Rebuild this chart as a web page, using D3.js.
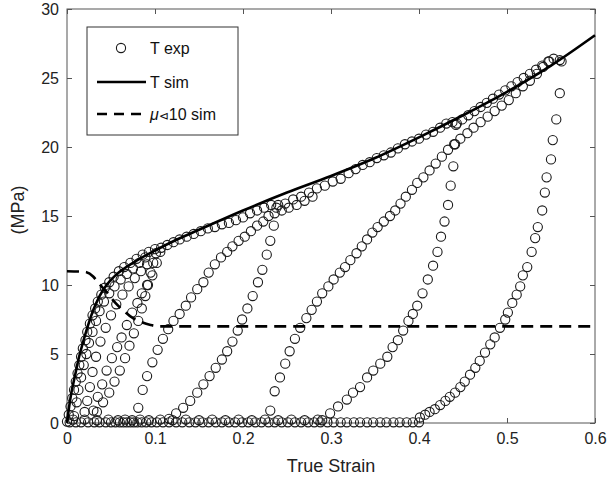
<!DOCTYPE html>
<html><head><meta charset="utf-8">
<script src="https://cdn.jsdelivr.net/npm/d3@7"></script>
<style>body{margin:0;background:#fff}svg{display:block}text{font-family:"Liberation Sans",Arial,sans-serif}</style>
</head><body><svg id="c" width="607" height="486"></svg>
<script>
// ---- data ----
const xTicks = [0, 0.1, 0.2, 0.3, 0.4, 0.5, 0.6];
const yTicks = [0, 5, 10, 15, 20, 25, 30];
const legendLabels = ["T exp", "T sim", "μ⊲10 sim"];

// T sim (solid line)
const simStrain = [0, 0.002, 0.005, 0.009, 0.013, 0.018, 0.024, 0.03, 0.037, 0.045, 0.055, 0.065, 0.08, 0.1, 0.125, 0.15, 0.2, 0.25, 0.3, 0.35, 0.4, 0.45, 0.5, 0.55, 0.6];
const simStress = [0, 1.0, 2.2, 3.4, 4.6, 5.8, 7.1, 8.2, 9.2, 10.0, 10.7, 11.2, 11.8, 12.5, 13.3, 14.0, 15.4, 16.7, 17.9, 19.2, 20.7, 22.3, 24.0, 25.9, 28.1];

// mu<10 sim (dashed line)
const muStrain = [0, 0.02, 0.03, 0.035, 0.045, 0.055, 0.065, 0.075, 0.085, 0.095, 0.105, 0.12, 0.6];
const muStress = [11.0, 10.95, 10.6, 10.2, 9.5, 8.7, 8.1, 7.6, 7.3, 7.1, 7.0, 7.0, 7.0];

// T exp (circles), one array per visible chain of points [strain, stress]
const expEnv0 = [[0,0.1],[0.002,0.6],[0.004,1.2],[0.006,1.8],[0.008,2.4],[0.010,3.0],[0.012,3.6],[0.014,4.2],[0.016,4.8],[0.018,5.4],[0.021,6.0],[0.023,6.6],[0.026,7.2],[0.029,7.8],[0.032,8.3],[0.035,8.8],[0.039,9.3],[0.043,9.8],[0.048,10.2],[0.053,10.6],[0.059,11.0],[0.065,11.3],[0.072,11.6],[0.079,11.9],[0.086,12.2],[0.093,12.4],[0.100,12.6]];
const expEnv1 = [[0.107,12.7],[0.114,12.9],[0.121,13.1],[0.128,13.3],[0.136,13.5],[0.144,13.7],[0.152,13.9],[0.160,14.1],[0.168,14.2],[0.176,14.4],[0.184,14.5],[0.192,14.7],[0.200,14.9],[0.208,15.2],[0.216,15.4],[0.224,15.6],[0.232,15.8],[0.240,15.8]];
const expEnv2 = [[0.248,15.9],[0.257,16.2],[0.266,16.4],[0.275,16.7],[0.284,17.0],[0.293,17.2],[0.302,17.5],[0.311,17.7],[0.320,18.1],[0.328,18.4],[0.336,18.7],[0.344,18.9],[0.352,19.2],[0.360,19.4],[0.368,19.6],[0.376,19.9],[0.384,20.2],[0.392,20.4],[0.400,20.6],[0.408,20.9],[0.416,21.1],[0.424,21.4],[0.431,21.7],[0.438,21.8],[0.443,21.7]];
const expEnv3 = [[0.449,22.0],[0.456,22.3],[0.463,22.6],[0.470,22.9],[0.477,23.2],[0.484,23.5],[0.491,23.8],[0.498,24.1],[0.505,24.4],[0.512,24.7],[0.519,25.0],[0.526,25.3],[0.533,25.6],[0.540,25.9],[0.547,26.2],[0.553,26.4],[0.560,26.3]];
const expLoadA = [[0.008,0.5],[0.011,1.5],[0.013,2.4],[0.016,3.3],[0.019,4.2],[0.022,5.0],[0.025,5.8],[0.029,6.6],[0.033,7.4],[0.037,8.1],[0.042,8.8],[0.048,9.4],[0.054,9.9],[0.061,10.4],[0.068,10.8],[0.075,11.2],[0.082,11.6],[0.089,12.0]];
const expLoadB = [[0.020,0.8],[0.023,1.6],[0.026,2.6],[0.029,3.7],[0.033,4.8],[0.038,5.9],[0.044,6.9],[0.050,7.8],[0.056,8.6],[0.063,9.3],[0.070,9.9],[0.077,10.5],[0.084,11.0],[0.091,11.5]];
const expLoadC = [[0.030,0.9],[0.035,1.9],[0.040,2.8],[0.045,3.8],[0.051,4.7],[0.057,5.5],[0.062,6.2],[0.068,7.1],[0.074,8.0],[0.080,8.7],[0.085,9.4],[0.091,10.0],[0.097,10.7],[0.102,11.6],[0.106,12.4]];
const expUnload1 = [[0.101,12.3],[0.098,11.6],[0.095,10.9],[0.092,10.0],[0.089,9.2],[0.085,8.3],[0.081,7.4],[0.076,6.5],[0.071,5.6],[0.066,4.7],[0.060,3.8],[0.054,3.0],[0.048,2.2],[0.041,1.5],[0.034,0.8]];
const expReload2 = [[0.081,1.1],[0.086,2.4],[0.091,3.4],[0.097,4.4],[0.103,5.3],[0.109,6.1],[0.115,6.8],[0.121,7.4],[0.128,7.9],[0.135,8.5],[0.141,9.1],[0.148,9.7],[0.155,10.2],[0.161,10.9],[0.168,11.5],[0.175,12.0],[0.182,12.4],[0.188,12.8],[0.195,13.2],[0.202,13.5],[0.209,13.9],[0.216,14.3],[0.223,14.6],[0.229,15.0],[0.236,15.2],[0.244,15.4],[0.252,15.6],[0.261,15.8],[0.270,16.1],[0.279,16.4]];
const expUnload2 = [[0.238,15.6],[0.235,14.3],[0.231,13.2],[0.227,12.2],[0.222,11.1],[0.217,10.2],[0.211,9.2],[0.205,8.3],[0.199,7.5],[0.194,6.7],[0.188,5.9],[0.182,5.2],[0.176,4.6],[0.169,4.0],[0.162,3.4],[0.155,2.8],[0.148,2.2],[0.140,1.6],[0.132,1.1],[0.124,0.7],[0.116,0.3]];
const expReload3 = [[0.231,0.9],[0.236,2.3],[0.242,3.3],[0.248,4.3],[0.253,5.2],[0.259,6.1],[0.265,6.9],[0.272,7.6],[0.278,8.2],[0.284,8.8],[0.290,9.4],[0.297,9.9],[0.303,10.4],[0.310,10.9],[0.316,11.3],[0.322,11.8],[0.329,12.3],[0.335,12.8],[0.341,13.3],[0.347,13.8],[0.353,14.2],[0.360,14.6],[0.367,15.0],[0.373,15.4],[0.379,15.9],[0.385,16.4],[0.392,16.9],[0.398,17.4],[0.405,17.8],[0.412,18.3],[0.419,18.8],[0.426,19.3],[0.433,19.8],[0.440,20.2],[0.447,20.6],[0.455,21.0],[0.462,21.4],[0.470,21.8],[0.478,22.2],[0.486,22.6],[0.494,23.0],[0.502,23.4],[0.510,23.9],[0.518,24.4],[0.526,24.8],[0.534,25.3],[0.541,25.8],[0.548,26.2]];
const expUnload3 = [[0.442,21.6],[0.441,20.2],[0.439,18.6],[0.436,17.2],[0.433,15.8],[0.429,14.6],[0.425,13.5],[0.421,12.4],[0.416,11.4],[0.410,10.4],[0.404,9.4],[0.398,8.5],[0.393,7.9],[0.388,7.4],[0.382,6.7],[0.376,6.0],[0.370,5.5],[0.364,4.8],[0.356,4.3],[0.348,3.8],[0.341,3.3],[0.333,2.6],[0.325,2.2],[0.318,1.7],[0.308,1.2],[0.299,0.7],[0.290,0.2]];
const expUnload4 = [[0.562,26.2],[0.560,23.9],[0.556,22.0],[0.552,20.5],[0.550,19.1],[0.545,17.8],[0.543,16.7],[0.540,15.4],[0.535,14.2],[0.532,13.4],[0.528,12.4],[0.523,11.3],[0.518,10.7],[0.515,9.9],[0.511,9.3],[0.506,8.7],[0.501,8.0],[0.498,7.5],[0.492,6.9],[0.486,6.2],[0.481,5.7],[0.475,5.1],[0.469,4.5],[0.464,4.0],[0.458,3.5],[0.452,3.0],[0.447,2.6],[0.441,2.2],[0.435,1.9],[0.430,1.6],[0.424,1.3],[0.418,1.0],[0.412,0.8],[0.407,0.6],[0.401,0.4]];
const expZeroA = [[0.003,0.05],[0.010,0.05],[0.016,0.05],[0.024,0.05],[0.031,0.05],[0.037,0.05],[0.044,0.05],[0.050,0.05],[0.055,0.05],[0.060,0.05],[0.064,0.05],[0.068,0.05],[0.072,0.05],[0.076,0.05],[0.080,0.05],[0.085,0.05],[0.090,0.05],[0.096,0.05],[0.102,0.05],[0.109,0.05],[0.116,0.05],[0.124,0.05],[0.131,0.05],[0.139,0.05],[0.146,0.05],[0.154,0.05],[0.161,0.05],[0.169,0.05],[0.176,0.05],[0.184,0.05],[0.191,0.05],[0.199,0.05],[0.206,0.05],[0.214,0.05],[0.221,0.05],[0.229,0.05],[0.236,0.05],[0.244,0.05],[0.251,0.05],[0.259,0.05],[0.266,0.05],[0.274,0.05],[0.281,0.05],[0.288,0.05],[0.296,0.05],[0.303,0.05],[0.311,0.05],[0.318,0.05],[0.326,0.05],[0.333,0.05],[0.341,0.05],[0.348,0.05],[0.356,0.05],[0.363,0.05],[0.371,0.05],[0.378,0.05],[0.386,0.05],[0.393,0.05],[0.400,0.05]];
const expZeroB = [[0.007,0.25],[0.020,0.25],[0.034,0.2],[0.047,0.25],[0.058,0.2],[0.066,0.25],[0.074,0.2],[0.083,0.25],[0.093,0.2],[0.106,0.25],[0.120,0.2],[0.135,0.25],[0.150,0.2],[0.165,0.25],[0.180,0.2],[0.195,0.25],[0.210,0.2],[0.225,0.25],[0.240,0.2],[0.255,0.25],[0.270,0.2],[0.285,0.25]];

const expChains = [expEnv0, expEnv1, expEnv2, expEnv3, expLoadA, expLoadB, expLoadC, expUnload1, expReload2, expUnload2, expReload3, expUnload3, expUnload4, expZeroA, expZeroB];

// ---- drawing ----
const svg = d3.select("#c");
const x = d3.scaleLinear().domain([0, 0.6]).range([67, 595]);
const y = d3.scaleLinear().domain([0, 30]).range([423, 9]);
const frameCol = "#555";

svg.append("rect").attr("x", x(0)).attr("y", y(30)).attr("width", x(0.6) - x(0)).attr("height", y(0) - y(30))
  .attr("fill", "none").attr("stroke", frameCol).attr("stroke-width", 1);

function styleAxis(g) {
  g.select(".domain").remove();
  g.selectAll(".tick line").attr("stroke", frameCol);
  g.selectAll(".tick text").attr("fill", "#222").style("font-size", "16px").style("font-family", '"Liberation Sans",Arial,sans-serif');
}
const fmtX = d => d === 0 ? "0" : d3.format(".1f")(d);
svg.append("g").attr("transform", `translate(0,${y(0)})`)
  .call(d3.axisBottom(x).tickValues(xTicks).tickFormat(fmtX).tickSize(-5).tickPadding(10)).call(styleAxis);
svg.append("g").attr("transform", `translate(0,${y(30)})`)
  .call(d3.axisTop(x).tickValues(xTicks).tickFormat("").tickSize(-5)).call(styleAxis);
svg.append("g").attr("transform", `translate(${x(0)},0)`)
  .call(d3.axisLeft(y).tickValues(yTicks).tickFormat(d3.format("d")).tickSize(-5).tickPadding(8)).call(styleAxis);
svg.append("g").attr("transform", `translate(${x(0.6)},0)`)
  .call(d3.axisRight(y).tickValues(yTicks).tickFormat("").tickSize(-5)).call(styleAxis);

const allPts = expChains.flat();
svg.append("g").selectAll("circle").data(allPts).join("circle")
  .attr("cx", d => x(d[0])).attr("cy", d => y(d[1])).attr("r", 4.6)
  .attr("fill", "none").attr("stroke", "#1a1a1a").attr("stroke-width", 1.1);

const simData = simStrain.map((s, i) => [s, simStress[i]]);
const line = d3.line().x(d => x(d[0])).y(d => y(d[1])).curve(d3.curveMonotoneX);
svg.append("path").datum(simData).attr("d", line).attr("fill", "none").attr("stroke", "#000").attr("stroke-width", 2.6);

const muData = muStrain.map((s, i) => [s, muStress[i]]);
svg.append("path").datum(muData).attr("d", line).attr("fill", "none").attr("stroke", "#000").attr("stroke-width", 2.6)
  .attr("stroke-dasharray", "12,7");

svg.append("text").attr("x", 331).attr("y", 472).attr("text-anchor", "middle").style("font-size", "18px").attr("fill", "#222").text("True Strain");
svg.append("text").attr("transform", "translate(24,210) rotate(-90)").attr("text-anchor", "middle").style("font-size", "18px").attr("fill", "#222").text("(MPa)");

const lg = svg.append("g");
lg.append("rect").attr("x", 87).attr("y", 27).attr("width", 151).attr("height", 108).attr("fill", "#fff").attr("stroke", "#333").attr("stroke-width", 1);
const rows = [48, 82, 114];
lg.append("circle").attr("cx", 121).attr("cy", rows[0]).attr("r", 4.6).attr("fill", "none").attr("stroke", "#1a1a1a").attr("stroke-width", 1.1);
lg.append("line").attr("x1", 97).attr("x2", 146).attr("y1", rows[1]).attr("y2", rows[1]).attr("stroke", "#000").attr("stroke-width", 2.6);
lg.append("line").attr("x1", 97).attr("x2", 146).attr("y1", rows[2]).attr("y2", rows[2]).attr("stroke", "#000").attr("stroke-width", 2.6).attr("stroke-dasharray", "10,7");
legendLabels.forEach((t, i) => {
  const tx = lg.append("text").attr("x", 150).attr("y", rows[i] + 6).style("font-size", "16px").attr("fill", "#111");
  if (i === 2) {
    tx.append("tspan").style("font-style", "italic").text("μ");
    tx.append("tspan").style("font-family", '"DejaVu Sans",sans-serif').style("font-size", "12px").text("⊲");
    tx.append("tspan").text("10 sim");
  } else tx.text(t);
});
</script></body></html>
